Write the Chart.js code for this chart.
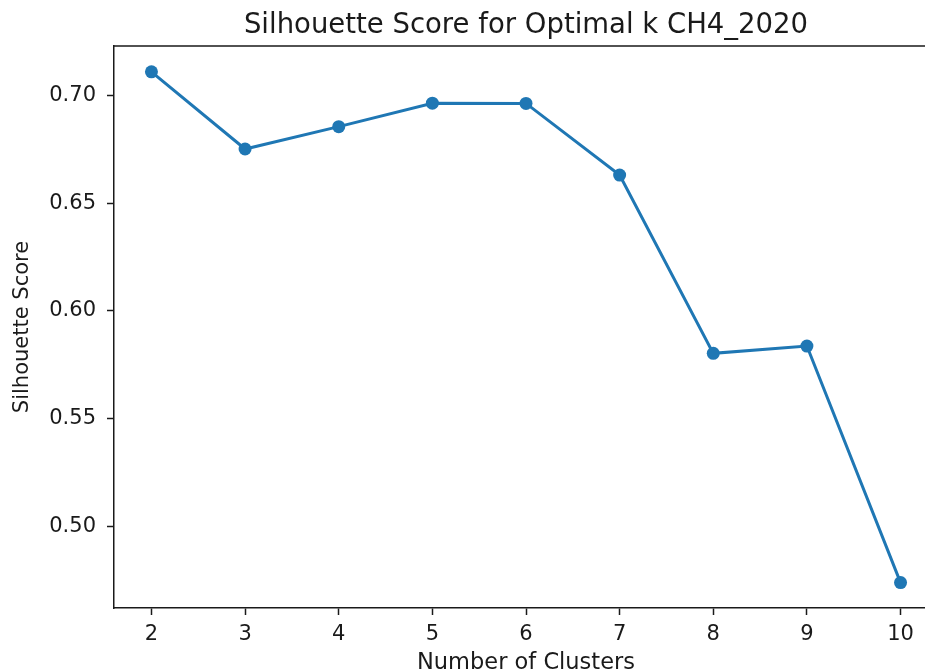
<!DOCTYPE html>
<html>
<head>
<meta charset="utf-8">
<script src="https://cdn.jsdelivr.net/npm/chart.js@4/dist/chart.umd.min.js"></script>
<style>
  html, body { margin: 0; padding: 0; background: #fff; overflow: hidden; }
  .chart-parent { width: 1052px; height: 672px; position: relative; }
</style>
</head>
<body>
<div class="chart-parent">
  <canvas id="myChart"></canvas>
</div>
<script>
const clusters = [2, 3, 4, 5, 6, 7, 8, 9, 10];
const scores = [0.7112, 0.6753, 0.6857, 0.6966, 0.6965, 0.6632, 0.5803, 0.5837, 0.4737];
const xTicks = [2, 3, 4, 5, 6, 7, 8, 9, 10];
const yTicks = [0.50, 0.55, 0.60, 0.65, 0.70];

const blue = '#1f77b4';
const ink = '#1a1a1a';
const font = 'DejaVu Sans';

// top + right spines like matplotlib
const frame = {
  id: 'frame',
  afterDraw(chart) {
    const { ctx, chartArea: a } = chart;
    ctx.save();
    ctx.strokeStyle = ink;
    ctx.lineWidth = 1.5;
    ctx.beginPath();
    ctx.moveTo(a.left, a.top);
    ctx.lineTo(a.right, a.top);
    ctx.lineTo(a.right, a.bottom);
    ctx.stroke();
    ctx.restore();
  }
};

const ctx = document.getElementById('myChart');
const myChart = new Chart(ctx, {
  type: 'line',
  data: {
    datasets: [{
      data: clusters.map((k, i) => ({ x: k, y: scores[i] })),
      borderColor: blue,
      backgroundColor: blue,
      borderWidth: 3,
      pointRadius: 6.5,
      pointBorderWidth: 0,
      pointHoverRadius: 6.5,
      tension: 0,
      fill: false,
    }],
  },
  options: {
    responsive: true,
    maintainAspectRatio: false,
    animation: false,
    devicePixelRatio: 1,
    layout: { padding: { left: 0, right: 114, top: 0, bottom: 0 } },
    plugins: {
      legend: { display: false },
      tooltip: { enabled: false },
      title: {
        display: true,
        fullSize: false,
        text: 'Silhouette Score for Optimal k CH4_2020',
        color: ink,
        font: { family: font, size: 27.5, weight: 'normal', lineHeight: 1.2 },
        padding: { top: 9, bottom: 4 },
      },
    },
    scales: {
      x: {
        type: 'linear',
        min: 1.6,
        max: 10.4,
        afterBuildTicks: (s) => { s.ticks = xTicks.map(v => ({ value: v })); },
        afterFit: (s) => { s.height = 64; },
        grid: { drawOnChartArea: false, drawTicks: true, tickLength: 7, tickWidth: 1.5, color: ink },
        border: { display: true, color: ink, width: 1.5 },
        ticks: { color: ink, padding: 7, font: { family: font, size: 21 }, maxRotation: 0 },
        title: {
          display: true,
          text: 'Number of Clusters',
          color: ink,
          font: { family: font, size: 22.5, lineHeight: 0.8 },
          padding: { top: 0, bottom: 0 },
        },
      },
      y: {
        min: 0.4619,
        max: 0.7232,
        afterBuildTicks: (s) => { s.ticks = yTicks.map(v => ({ value: v })); },
        afterFit: (s) => { s.width = 114; },
        grid: { drawOnChartArea: false, drawTicks: true, tickLength: 7, tickWidth: 1.5, color: ink },
        border: { display: true, color: ink, width: 1.5 },
        ticks: {
          color: ink,
          padding: 11,
          font: { family: font, size: 21 },
          callback: (v) => v.toFixed(2),
        },
        title: {
          display: true,
          text: 'Silhouette Score',
          color: ink,
          font: { family: font, size: 21, lineHeight: 1.2 },
          padding: { top: 10, bottom: 0 },
        },
      },
    },
  },
  plugins: [frame],
});
</script>
</body>
</html>
